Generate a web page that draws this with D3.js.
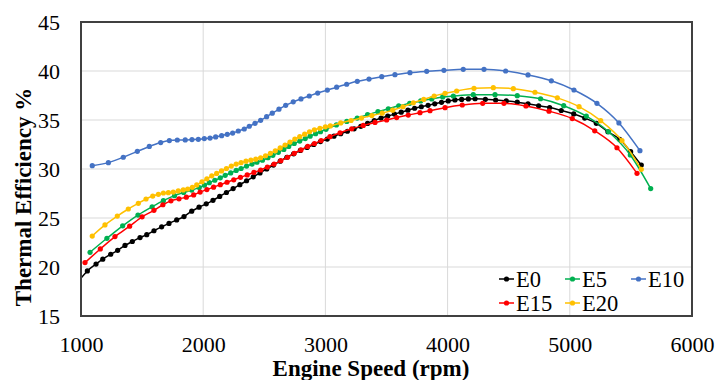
<!DOCTYPE html>
<html>
<head>
<meta charset="utf-8">
<script src="https://cdn.jsdelivr.net/npm/d3@7"></script>
<style>
  body { margin: 0; background: #fff; }
  svg { display: block; }
  svg text { font-family: "Liberation Serif", "DejaVu Serif", serif; }
</style>
</head>
<body>
<svg id="chart" width="718" height="380"></svg>
<script>
var seriesNames = ["E0", "E5", "E10", "E15", "E20"];
var seriesColors = ["#000000", "#00b050", "#4472c4", "#ff0000", "#ffc000"];

var rpmE0 = [980, 1052, 1123, 1178, 1243, 1300, 1360, 1420, 1483, 1538, 1597, 1660, 1720, 1783, 1843, 1906, 1966,
  2025, 2080, 2135, 2190, 2245, 2300, 2355, 2410, 2465, 2520, 2575, 2630, 2685, 2740, 2795, 2850, 2905, 2960,
  3015, 3070, 3125, 3180, 3235, 3290, 3345, 3400, 3455, 3510, 3565, 3620, 3675, 3730, 3785, 3840, 3895, 3950,
  4005, 4060, 4115, 4170, 4225, 4309, 4393, 4480, 4570, 4658, 4745, 4835, 4930, 5032, 5122, 5217, 5312, 5408, 5498, 5585];
var effE0 = [18.55, 19.6, 20.3, 20.8, 21.3, 21.7, 22.2, 22.6, 23.0, 23.3, 23.7, 24.1, 24.45, 24.8, 25.15, 25.7, 26.1,
  26.45, 26.8, 27.2, 27.6, 28.0, 28.4, 28.8, 29.2, 29.6, 30.0, 30.4, 30.8, 31.2, 31.55, 31.9, 32.2, 32.5, 32.8,
  33.05, 33.35, 33.6, 33.85, 34.1, 34.35, 34.65, 34.95, 35.2, 35.4, 35.6, 35.8, 36.0, 36.2, 36.35, 36.5, 36.65, 36.8,
  36.95, 37.05, 37.1, 37.15, 37.17, 37.11, 37.04, 36.95, 36.82, 36.65, 36.45, 36.27, 35.97, 35.62, 35.2, 34.66, 33.8, 33.03, 31.77, 30.4];

var rpmE5 = [1074, 1212, 1341, 1466, 1582, 1674, 1765, 1840, 1906, 1968,
  2010, 2050, 2095, 2140, 2180, 2225, 2270, 2310, 2355, 2400, 2440, 2485, 2530, 2570, 2615, 2660, 2700, 2745,
  2790, 2835, 2875, 2920, 2960, 3005, 3090, 3175, 3260, 3345, 3430, 3515, 3600, 3690, 3780, 3870, 3960,
  4047, 4210, 4388, 4570, 4761, 4950, 5135, 5318, 5495, 5662];
var effE5 = [21.5, 22.93, 24.2, 25.3, 26.15, 26.77, 27.28, 27.6, 27.85, 28.1,
  28.35, 28.6, 28.85, 29.1, 29.35, 29.6, 29.85, 30.05, 30.3, 30.5, 30.7, 30.9, 31.15, 31.4, 31.7, 32.0, 32.3, 32.6,
  32.85, 33.1, 33.35, 33.6, 33.8, 34.05, 34.5, 34.85, 35.2, 35.55, 35.85, 36.15, 36.45, 36.7, 36.95, 37.15, 37.35,
  37.45, 37.58, 37.58, 37.48, 37.17, 36.46, 35.4, 33.8, 31.43, 28.0];

var rpmE10 = [1092, 1224, 1346, 1461, 1559, 1652, 1723, 1788, 1853, 1908, 1960, 2009, 2056, 2102, 2151, 2197,
  2241, 2287, 2336, 2377, 2424, 2470, 2519, 2565, 2620, 2675, 2737, 2800, 2868, 2937, 3016, 3092, 3174, 3261,
  3357, 3461, 3569, 3692, 3829, 3970, 4128, 4298, 4475, 4658, 4849, 5034, 5222, 5402, 5574];
var effE10 = [30.34, 30.65, 31.2, 31.8, 32.3, 32.7, 32.9, 32.96, 32.97, 33.0, 33.03, 33.1, 33.16, 33.27, 33.4, 33.54,
  33.67, 33.88, 34.08, 34.36, 34.66, 34.97, 35.34, 35.7, 36.1, 36.5, 36.85, 37.15, 37.45, 37.75, 38.05, 38.35, 38.65, 38.95,
  39.18, 39.42, 39.62, 39.83, 39.97, 40.07, 40.17, 40.17, 40.0, 39.6, 39.0, 38.06, 36.7, 34.7, 31.87];

var rpmE15 = [1033, 1158, 1278, 1398, 1500, 1597, 1670, 1736, 1802, 1862, 1922, 1975, 2030, 2085, 2140, 2195,
  2250, 2305, 2360, 2415, 2470, 2525, 2580, 2635, 2690, 2745, 2800, 2855, 2910, 2965, 3037, 3120, 3215, 3310,
  3406, 3501, 3583, 3678, 3774, 3856, 3979, 4120, 4287, 4461, 4641, 4830, 5020, 5204, 5386, 5550];
var effE15 = [20.45, 21.84, 23.1, 24.17, 25.12, 25.78, 26.35, 26.75, 26.96, 27.12, 27.35, 27.65, 27.9, 28.15, 28.4, 28.65,
  28.9, 29.15, 29.4, 29.65, 29.9, 30.2, 30.5, 30.85, 31.2, 31.6, 31.95, 32.3, 32.6, 32.9, 33.3, 33.7, 34.1, 34.45,
  34.75, 35.0, 35.25, 35.5, 35.75, 35.95, 36.26, 36.53, 36.7, 36.7, 36.43, 35.9, 35.15, 33.9, 32.17, 29.56];

var rpmE20 = [1092, 1196, 1297, 1387, 1469, 1532, 1587, 1633, 1674, 1715, 1755, 1796, 1837, 1873, 1911, 1947,
  1990, 2030, 2070, 2110, 2150, 2190, 2230, 2270, 2310, 2350, 2390, 2430, 2470, 2510, 2550, 2590, 2630, 2670,
  2710, 2750, 2790, 2830, 2870, 2910, 2955, 3000, 3040, 3125, 3210, 3295, 3380, 3465, 3550, 3635, 3720, 3805,
  3890, 3979, 4074, 4216, 4374, 4538, 4715, 4898, 5076, 5253, 5427, 5585];
var effE20 = [23.16, 24.29, 25.2, 25.92, 26.5, 26.94, 27.24, 27.42, 27.55, 27.58, 27.65, 27.76, 27.86, 27.96, 28.13, 28.37,
  28.7, 29.0, 29.3, 29.55, 29.8, 30.05, 30.3, 30.5, 30.65, 30.8, 30.9, 31.0, 31.15, 31.35, 31.6, 31.85, 32.15, 32.45,
  32.75, 33.05, 33.3, 33.55, 33.8, 34.0, 34.15, 34.3, 34.4, 34.7, 34.95, 35.2, 35.45, 35.7, 36.0, 36.35, 36.75, 37.1,
  37.45, 37.72, 37.96, 38.23, 38.3, 38.2, 37.83, 37.26, 36.36, 34.93, 32.9, 29.97];

var xTicks = [1000, 2000, 3000, 4000, 5000, 6000];
var yTicks = [15, 20, 25, 30, 35, 40, 45];

var rpmAll = [rpmE0, rpmE5, rpmE10, rpmE15, rpmE20];
var effAll = [effE0, effE5, effE10, effE15, effE20];

var margin = {top: 22, right: 26, bottom: 64, left: 81};
var width = 718, height = 380;
var plotW = width - margin.left - margin.right;
var plotH = height - margin.top - margin.bottom;
var serif = "'Liberation Serif', 'DejaVu Serif', serif";

var svg = d3.select("#chart");
var g = svg.append("g").attr("transform", "translate(" + margin.left + "," + margin.top + ")");

var x = d3.scaleLinear().domain([1000, 6000]).range([0, plotW]);
var y = d3.scaleLinear().domain([15, 45]).range([plotH, 0]);

// grid
g.selectAll(".hgrid").data(yTicks).enter().append("line")
  .attr("x1", 0).attr("x2", plotW)
  .attr("y1", function(d){ return y(d); }).attr("y2", function(d){ return y(d); })
  .style("stroke", "#d9d9d9").style("stroke-width", 1);
g.selectAll(".vgrid").data(xTicks).enter().append("line")
  .attr("y1", 0).attr("y2", plotH)
  .attr("x1", function(d){ return x(d); }).attr("x2", function(d){ return x(d); })
  .style("stroke", "#d9d9d9").style("stroke-width", 1);

// axes (labels only, frame drawn below)
var xAxis = g.append("g").attr("transform", "translate(0," + plotH + ")")
  .call(d3.axisBottom(x).tickValues(xTicks).tickSize(0).tickPadding(20).tickFormat(d3.format("d")));
var yAxis = g.append("g")
  .call(d3.axisLeft(y).tickValues(yTicks).tickSize(0).tickPadding(21).tickFormat(d3.format("d")));
[xAxis, yAxis].forEach(function(a){
  a.attr("font-family", serif).attr("font-size", 22);
  a.select(".domain").remove();
  a.selectAll("text").style("fill", "#000");
});

g.append("clipPath").attr("id", "plotclip")
  .append("rect").attr("width", plotW).attr("height", plotH);

var line = d3.line()
  .x(function(d){ return x(d[0]); })
  .y(function(d){ return y(d[1]); })
  .curve(d3.curveMonotoneX);

var plot = g.append("g").attr("clip-path", "url(#plotclip)");

for (var i = 0; i < seriesNames.length; i++) {
  var pts = rpmAll[i].map(function(r, j){ return [r, effAll[i][j]]; });
  plot.append("path")
    .datum(pts)
    .attr("d", line)
    .style("fill", "none")
    .style("stroke", seriesColors[i])
    .style("stroke-width", 1.5);
  plot.selectAll(".m" + i).data(pts).enter().append("circle")
    .attr("cx", function(d){ return x(d[0]); })
    .attr("cy", function(d){ return y(d[1]); })
    .attr("r", 2.6)
    .style("fill", seriesColors[i]);
}

// frame
g.append("rect")
  .attr("width", plotW).attr("height", plotH)
  .style("fill", "none").style("stroke", "#404040").style("stroke-width", 2);

// legend
var legX = [418, 484, 550];
var legY = [257, 281];
var leg = g.append("g").attr("font-family", serif);
seriesNames.forEach(function(name, i){
  var lx = legX[i % 3], ly = legY[Math.floor(i / 3)];
  leg.append("line").attr("x1", lx).attr("x2", lx + 15).attr("y1", ly).attr("y2", ly)
    .style("stroke", seriesColors[i]).style("stroke-width", 1.5);
  leg.append("circle").attr("cx", lx + 7.5).attr("cy", ly).attr("r", 2.6).style("fill", seriesColors[i]);
  leg.append("text").attr("x", lx + 17).attr("y", ly + 7.5)
    .text(name)
    .style("font-size", "22.5px").style("fill", "#000");
});

// titles
svg.append("text")
  .attr("x", 371).attr("y", 376)
  .attr("text-anchor", "middle")
  .style("font-weight", "bold").style("font-size", "23px")
  .text("Engine Speed (rpm)");
svg.append("text")
  .attr("transform", "translate(31,197) rotate(-90)")
  .attr("text-anchor", "middle")
  .style("font-weight", "bold").style("font-size", "23px")
  .text("Thermal Efficiency %");
</script>
</body>
</html>
